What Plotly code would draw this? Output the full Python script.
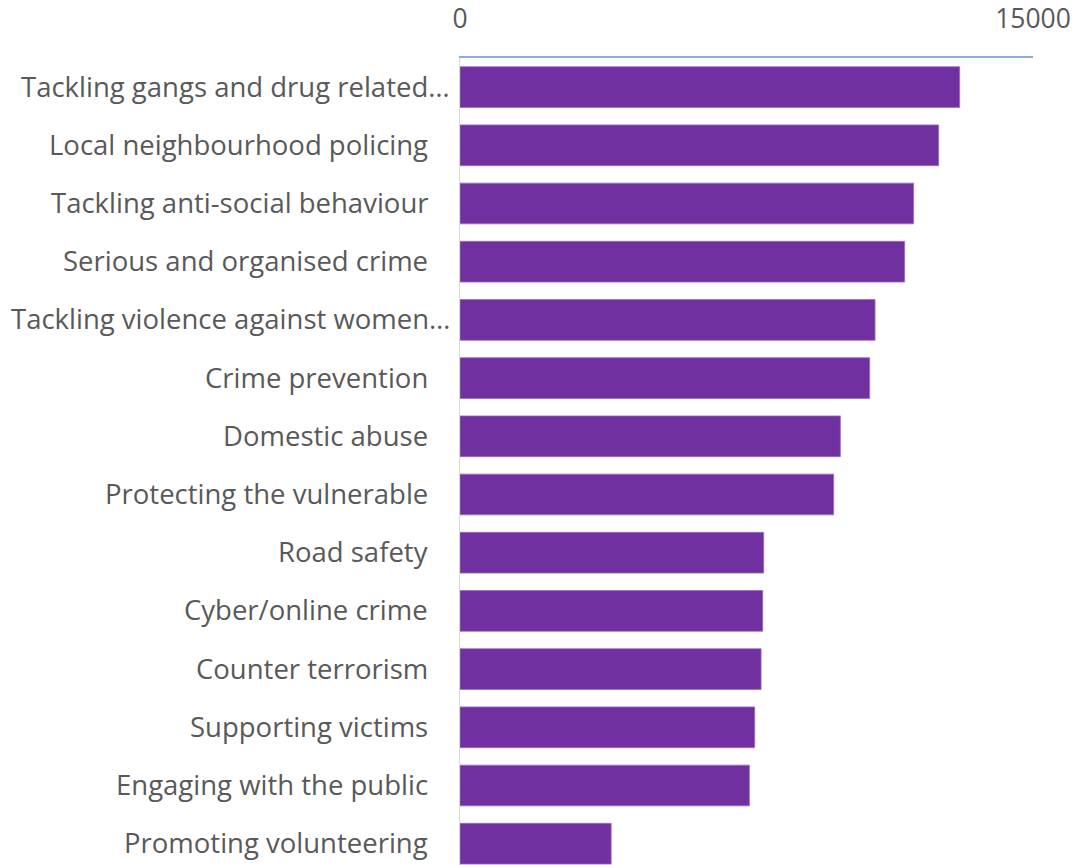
import plotly.graph_objects as go

# Priority areas and number of responses
categories = [
    "Tackling gangs and drug related…",
    "Local neighbourhood policing",
    "Tackling anti-social behaviour",
    "Serious and organised crime",
    "Tackling violence against women…",
    "Crime prevention",
    "Domestic abuse",
    "Protecting the vulnerable",
    "Road safety",
    "Cyber/online crime",
    "Counter terrorism",
    "Supporting victims",
    "Engaging with the public",
    "Promoting volunteering",
]
responses = [13080, 12530, 11875, 11640, 10865, 10724, 9957, 9782,
             7950, 7924, 7882, 7715, 7576, 3957]

x_ticks = [0, 15000]
x_tick_text = ["0", "15000"]

text_grey = "#595959"
font_family = "Open Sans, Liberation Sans, sans-serif"

fig = go.Figure(
    go.Bar(
        x=responses,
        y=categories,
        orientation="h",
        marker=dict(color="#7030A0", line=dict(color="#9B6CC4", width=0.8)),
    )
)

# Category labels: right-aligned left of the axis; truncated names
# (ending in an ellipsis) use the full label width and sit closer to it.
for name in categories:
    gap = -8 if name.endswith("…") else -30
    fig.add_annotation(
        x=0, xref="paper", xanchor="right", xshift=gap,
        y=name, yref="y", yanchor="middle", yshift=1,
        text=name, showarrow=False,
        font=dict(size=27.5, color=text_grey, family=font_family),
    )

fig.update_layout(
    width=1075,
    height=865,
    margin=dict(l=460, r=42, t=58, b=0, autoexpand=False),
    paper_bgcolor="white",
    plot_bgcolor="white",
    bargap=0.3,
    showlegend=False,
    font=dict(family=font_family, color=text_grey),
)

fig.update_xaxes(
    side="top",
    range=[0, 15000],
    tickvals=x_ticks,
    ticktext=x_tick_text,
    showgrid=False,
    zeroline=False,
    showline=True,
    linecolor="#8FAADC",
    linewidth=1.5,
    ticks="",
    ticklabelstandoff=18,
    tickfont=dict(size=26.5, color=text_grey, family=font_family),
)

fig.update_yaxes(
    categoryorder="array",
    categoryarray=categories,
    range=[13.366, -0.5],
    showgrid=False,
    zeroline=False,
    showline=True,
    linecolor="#D9D9D9",
    linewidth=1,
    ticks="",
    showticklabels=False,
)

fig.write_html("out.html")
